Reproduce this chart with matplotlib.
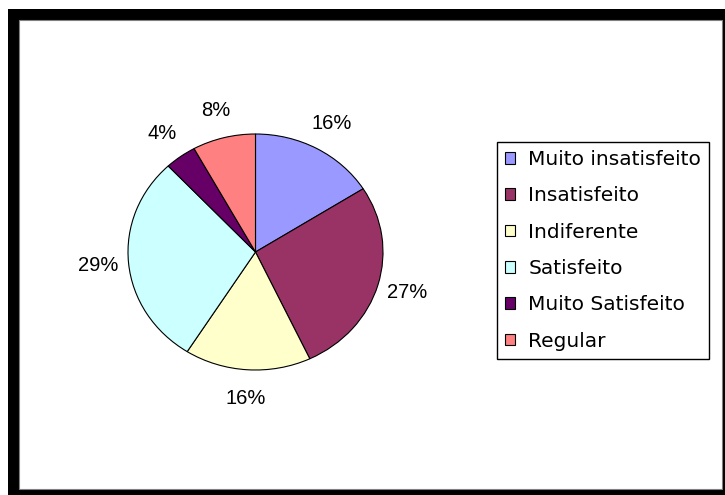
import matplotlib.pyplot as plt
from matplotlib.patches import Rectangle

categories = ["Muito insatisfeito", "Insatisfeito", "Indiferente",
              "Satisfeito", "Muito Satisfeito", "Regular"]
values = [16, 27, 16, 29, 4, 8]
colors = ["#9999FF", "#993366", "#FFFFCC", "#CCFFFF", "#660066", "#FF8080"]

W, H = 725, 495
fig = plt.figure(figsize=(W / 100, H / 100), dpi=100)

# thick black frame like the Excel chart area
fig.patches.append(Rectangle((8 / W, 0), 1 - 8 / W, 1 - 9 / H, transform=fig.transFigure,
                             facecolor="black", edgecolor="none", zorder=0))
fig.patches.append(Rectangle((19 / W, 6 / H), (722 - 19) / W, (475 - 6) / H,
                             transform=fig.transFigure, facecolor="white",
                             edgecolor="#808080", linewidth=0.8, zorder=0))

# pie centred at (255.5, 252) px, radii 127.5 x 118 px
cx, cy, rx, ry = 255.5, 252, 127.5, 118
half = 150
ax = fig.add_axes([(cx - half) / W, (H - cy - half) / H, 2 * half / W, 2 * half / H])
ax.set_zorder(2)
ax.patch.set_visible(False)
wedges, texts, autotexts = ax.pie(values, colors=colors, startangle=90, counterclock=False,
                                  autopct=lambda p: f"{p:.0f}%", pctdistance=1.24,
                                  wedgeprops=dict(edgecolor="black", linewidth=0.8),
                                  textprops=dict(family="Liberation Sans", fontsize=14.5,
                                                 color="black"))
ax.set_xlim(-half / rx, half / rx)
ax.set_ylim(-half / ry, half / ry)
ax.set_aspect("auto")

leg = fig.legend(wedges, categories, loc="upper left",
                 bbox_to_anchor=(497 / W, 1 - 142 / H), borderaxespad=0,
                 prop=dict(family="DejaVu Sans", size=14.5),
                 frameon=True, fancybox=False, framealpha=1, edgecolor="black",
                 handlelength=0.5, handleheight=0.5, handletextpad=0.65,
                 labelspacing=0.86, borderpad=0.4)
leg.set_zorder(3)
leg.get_frame().set_linewidth(1.0)
for h in leg.legend_handles:
    h.set_edgecolor("black")
    h.set_linewidth(0.8)

fig.savefig("out.png", dpi=100)
